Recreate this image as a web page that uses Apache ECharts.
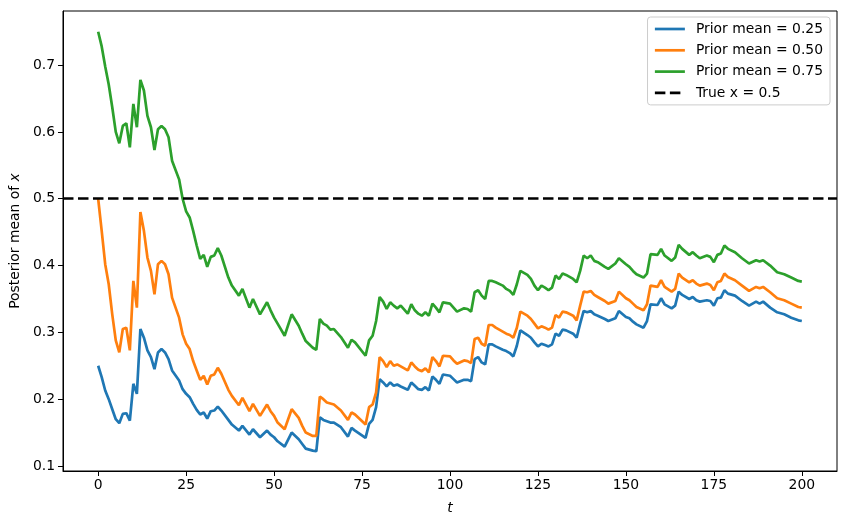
<!DOCTYPE html>
<html>
<head>
<meta charset="utf-8">
<script src="https://cdn.jsdelivr.net/npm/echarts@6/dist/echarts.min.js"></script>
<style>
  html, body { margin: 0; padding: 0; background: #fff; }
  #main { width: 847px; height: 525px; }
</style>
</head>
<body>
<div id="main"></div>
<script>
// posterior means, [t, value]
var prior025 = [
  [0,0.250],[1,0.233],[2,0.213],[3,0.200],[4,0.185],[5,0.170],[6,0.164],[7,0.178],[8,0.179],[9,0.168],
  [10,0.223],[11,0.208],[12,0.305],[13,0.292],[14,0.273],[15,0.263],[16,0.245],[17,0.270],[18,0.275],[19,0.270],
  [20,0.260],[21,0.243],[23,0.228],[24,0.215],[25,0.208],[26,0.203],[27,0.193],[28,0.184],[29,0.177],[30,0.180],
  [31,0.171],[32,0.182],[33,0.183],[34,0.189],[35,0.183],[37,0.169],[38,0.162],[40,0.153],[41,0.160],[43,0.147],
  [44,0.155],[46,0.143],[48,0.153],[49,0.147],[50,0.143],[51,0.137],[53,0.129],[55,0.150],[57,0.140],[58,0.133],
  [59,0.126],[61,0.123],[62,0.122],
  [63,0.173],[64,0.169],[66,0.165],[67,0.165],[69,0.158],[71,0.144],[72,0.157],[73,0.153],[76,0.142],[77,0.163],
  [78,0.169],[79,0.188],[80,0.230],[81,0.225],[82,0.219],[83,0.225],[84,0.220],[85,0.222],[86,0.219],[88,0.214],
  [89,0.225],[90,0.220],[91,0.215],[92,0.214],[93,0.218],[94,0.213],[95,0.234],[96,0.229],[97,0.223],[98,0.237],
  [100,0.235],[101,0.230],[102,0.225],[104,0.229],[105,0.229],[106,0.227],[107,0.260],[108,0.263],[109,0.255],[110,0.252],
  [111,0.282],[112,0.282],[113,0.279],[115,0.274],[116,0.272],[117,0.269],[118,0.264],[119,0.280],[120,0.303],[122,0.296],
  [123,0.292],[124,0.285],[125,0.279],[126,0.283],[127,0.281],[128,0.279],[129,0.282],[130,0.298],[131,0.295],[132,0.304],
  [133,0.303],[135,0.298],[136,0.292],[137,0.313],[138,0.332],[139,0.330],[140,0.332],[141,0.327],[142,0.325],[144,0.320],
  [145,0.317],[147,0.321],[148,0.332],[150,0.323],[151,0.321],[152,0.316],[153,0.312],[155,0.307],[156,0.317],[157,0.342],
  [159,0.341],[160,0.351],[161,0.342],[163,0.336],[164,0.340],[165,0.361],[166,0.356],[168,0.350],[169,0.353],[170,0.348],
  [171,0.346],[173,0.348],[174,0.347],[175,0.340],[176,0.351],[177,0.352],[178,0.363],[179,0.358],[181,0.355],[183,0.347],
  [185,0.340],[187,0.346],[188,0.343],[189,0.346],[191,0.337],[193,0.330],[195,0.327],[197,0.322],[199,0.318],[200,0.317]
]
var prior050 = [
  [0,0.500],[1,0.452],[2,0.402],[3,0.372],[4,0.327],[5,0.288],[6,0.270],[7,0.305],[8,0.307],[9,0.273],
  [10,0.377],[11,0.337],[12,0.480],[13,0.452],[14,0.412],[15,0.392],[16,0.357],[17,0.402],[18,0.407],[19,0.402],
  [20,0.387],[21,0.352],[23,0.322],[24,0.297],[25,0.283],[26,0.275],[27,0.257],[28,0.243],[29,0.229],[30,0.235],
  [31,0.222],[32,0.235],[33,0.237],[34,0.247],[35,0.238],[37,0.214],[38,0.205],[40,0.191],[41,0.202],[43,0.182],
  [44,0.193],[46,0.175],[48,0.192],[49,0.182],[50,0.175],[51,0.165],[53,0.155],[55,0.185],[57,0.172],[58,0.160],
  [59,0.150],[61,0.145],[62,0.145],
  [63,0.204],[64,0.200],[65,0.195],[67,0.192],[69,0.183],[71,0.169],[72,0.180],[73,0.177],[76,0.162],[77,0.188],
  [78,0.192],[79,0.210],[80,0.263],[81,0.257],[82,0.248],[83,0.257],[84,0.250],[85,0.252],[86,0.249],[88,0.243],
  [89,0.255],[90,0.249],[91,0.244],[92,0.242],[93,0.246],[94,0.240],[95,0.263],[96,0.257],[97,0.249],[98,0.265],
  [100,0.264],[101,0.258],[102,0.253],[104,0.258],[105,0.257],[106,0.254],[107,0.290],[108,0.292],[109,0.283],[110,0.280],
  [111,0.311],[112,0.311],[113,0.307],[115,0.301],[116,0.298],[117,0.296],[118,0.292],[119,0.307],[120,0.331],[122,0.325],
  [123,0.320],[124,0.313],[125,0.306],[126,0.309],[127,0.307],[128,0.304],[129,0.307],[130,0.326],[131,0.322],[132,0.331],
  [133,0.330],[135,0.325],[136,0.318],[137,0.340],[138,0.361],[139,0.360],[140,0.362],[141,0.356],[142,0.353],[144,0.347],
  [145,0.343],[147,0.347],[148,0.361],[150,0.351],[151,0.348],[152,0.343],[153,0.338],[155,0.333],[156,0.342],[157,0.370],
  [159,0.368],[160,0.378],[161,0.368],[163,0.361],[164,0.365],[165,0.388],[166,0.382],[168,0.375],[169,0.378],[170,0.373],
  [171,0.370],[173,0.373],[174,0.371],[175,0.363],[176,0.375],[177,0.377],[178,0.388],[179,0.383],[181,0.378],[183,0.370],
  [185,0.362],[187,0.368],[188,0.366],[189,0.368],[191,0.360],[193,0.351],[195,0.348],[197,0.343],[199,0.338],[200,0.337]
]
var prior075 = [
  [0,0.750],[1,0.728],[2,0.698],[3,0.671],[4,0.637],[5,0.600],[6,0.583],[7,0.609],[8,0.613],[9,0.577],
  [10,0.642],[11,0.607],[12,0.678],[13,0.662],[14,0.624],[15,0.607],[16,0.573],[17,0.604],[18,0.609],[19,0.604],
  [20,0.592],[21,0.557],[23,0.529],[24,0.500],[25,0.481],[26,0.472],[27,0.452],[28,0.430],[29,0.410],[30,0.416],
  [31,0.398],[32,0.413],[33,0.415],[34,0.426],[35,0.415],[37,0.382],[38,0.370],[40,0.355],[41,0.365],[43,0.337],
  [44,0.350],[46,0.327],[48,0.345],[49,0.333],[50,0.322],[51,0.313],[53,0.295],[55,0.327],[57,0.310],[58,0.298],
  [59,0.287],[61,0.277],[62,0.274],
  [63,0.320],[64,0.313],[65,0.310],[66,0.304],[67,0.305],[69,0.293],[71,0.277],[72,0.289],[73,0.285],[76,0.265],
  [77,0.288],[78,0.295],[79,0.317],[80,0.353],[81,0.346],[82,0.335],[83,0.345],[84,0.340],[85,0.336],[86,0.340],
  [88,0.328],[89,0.342],[90,0.333],[91,0.328],[92,0.325],[93,0.330],[94,0.325],[95,0.343],[96,0.337],[97,0.330],
  [98,0.345],[100,0.343],[101,0.337],[102,0.331],[104,0.336],[105,0.335],[106,0.331],[107,0.360],[108,0.363],[109,0.355],
  [110,0.350],[111,0.377],[112,0.377],[113,0.375],[115,0.370],[116,0.365],[117,0.362],[118,0.356],[119,0.372],[120,0.392],
  [122,0.386],[123,0.380],[124,0.370],[125,0.363],[126,0.370],[127,0.367],[128,0.363],[129,0.367],[130,0.385],[131,0.380],
  [132,0.388],[133,0.386],[135,0.380],[136,0.375],[137,0.392],[138,0.415],[139,0.411],[140,0.415],[141,0.407],[142,0.405],
  [144,0.398],[145,0.395],[147,0.403],[148,0.411],[150,0.402],[151,0.398],[152,0.392],[153,0.387],[155,0.382],[156,0.388],
  [157,0.417],[159,0.416],[160,0.425],[161,0.415],[163,0.407],[164,0.412],[165,0.431],[166,0.425],[168,0.416],[169,0.420],
  [170,0.415],[171,0.411],[173,0.415],[174,0.413],[175,0.405],[176,0.416],[177,0.418],[178,0.430],[179,0.425],[181,0.420],
  [183,0.411],[185,0.403],[187,0.408],[188,0.406],[189,0.408],[191,0.400],[193,0.390],[195,0.387],[197,0.382],[199,0.377],[200,0.376]
]
var trueX = 0.5
var seriesNames = ['Prior mean = 0.25', 'Prior mean = 0.50', 'Prior mean = 0.75', 'True x = 0.5']
var xTicks = [0, 25, 50, 75, 100, 125, 150, 175, 200]
var yTicks = [0.1, 0.2, 0.3, 0.4, 0.5, 0.6, 0.7]

var font = 'DejaVu Sans'
var fs = 13.9
var chart = echarts.init(document.getElementById('main'), null, { renderer: 'canvas' })

function lineSeries(name, data, color) {
  return {
    name: name,
    type: 'line',
    data: data,
    symbol: 'none',
    color: color,
    lineStyle: { color: color, width: 2.7 }
  }
}

var option = {
  animation: false,
  textStyle: { fontFamily: font },
  grid: {
    left: 62, right: 10, top: 11, bottom: 54,
    show: true, borderColor: '#000', borderWidth: 1, backgroundColor: 'transparent'
  },
  legend: {
    orient: 'vertical',
    right: 17, top: 17,
    itemWidth: 30, itemHeight: 14, itemGap: 7.3,
    padding: [5, 7, 5, 6],
    borderColor: '#cccccc', borderWidth: 1, borderRadius: 3,
    backgroundColor: '#fff',
    itemStyle: { opacity: 0 },
    lineStyle: { width: 2.7 },
    textStyle: { fontFamily: font, fontSize: fs, lineHeight: 14, color: '#000', padding: [0, 0, 0, 6] },
    data: seriesNames
  },
  xAxis: {
    type: 'value',
    min: -10, max: 210,
    name: 't',
    nameLocation: 'middle',
    nameGap: 30,
    nameTextStyle: { fontFamily: font, fontSize: fs, fontStyle: 'italic', color: '#000' },
    axisLine: { show: true, onZero: false, lineStyle: { color: '#000' } },
    axisTick: { show: true, length: 5, lineStyle: { color: '#000' }, customValues: xTicks },
    axisLabel: { fontFamily: font, fontSize: fs, color: '#000', margin: 7, customValues: xTicks },
    splitLine: { show: false }
  },
  yAxis: {
    type: 'value',
    min: 0.0925, max: 0.781,
    name: 'Posterior mean of {i|x}',
    nameLocation: 'middle',
    nameGap: 38,
    nameRotate: 90,
    nameTextStyle: {
      fontFamily: font, fontSize: fs, color: '#000',
      rich: { i: { fontFamily: font, fontSize: fs, fontStyle: 'italic', color: '#000' } }
    },
    axisLine: { show: true, onZero: false, lineStyle: { color: '#000' } },
    axisTick: { show: true, length: 5, lineStyle: { color: '#000' }, customValues: yTicks },
    axisLabel: {
      fontFamily: font, fontSize: fs, color: '#000', margin: 8, customValues: yTicks,
      formatter: function (v) { return v.toFixed(1) }
    },
    splitLine: { show: false }
  },
  series: [
    lineSeries(seriesNames[0], prior025, '#1f77b4'),
    lineSeries(seriesNames[1], prior050, '#ff7f0e'),
    lineSeries(seriesNames[2], prior075, '#2ca02c'),
    {
      name: seriesNames[3],
      type: 'line',
      data: [],
      symbol: 'none',
      color: '#000',
      lineStyle: { color: '#000', width: 2.7, type: [10.5, 4.5] },
      markLine: {
        silent: true,
        symbol: 'none',
        label: { show: false },
        lineStyle: { color: '#000', width: 2.7, type: [10.5, 4.5] },
        data: [{ yAxis: trueX }]
      }
    }
  ]
}

chart.setOption(option)
</script>
</body>
</html>
